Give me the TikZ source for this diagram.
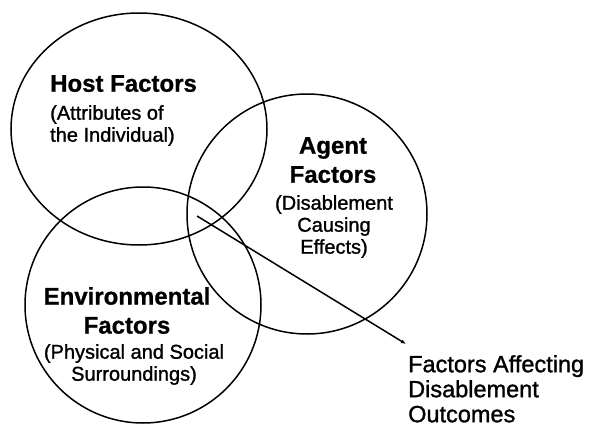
\documentclass[tikz,border=0pt]{standalone}
\usepackage{fontspec}
\setmainfont{Liberation Sans}
\newfontfamily\scanreg[FakeBold=1.2]{Liberation Sans}
\newfontfamily\scanbold[FakeBold=0.8]{Liberation Sans Bold}
\usetikzlibrary{shapes.geometric,arrows.meta}
\tikzset{
  ring/.style={draw=black, line width=1.5pt, inner sep=0pt},
  titletxt/.style={font=\scanbold\fontsize{24}{29}\selectfont, inner sep=0pt, align=center},
  subtxt/.style={font=\scanreg\fontsize{20}{22}\selectfont, inner sep=0pt, align=center},
  outtxt/.style={font=\scanreg\fontsize{23.5}{25}\selectfont, inner sep=0pt, align=left},
  pointer/.style={draw=black, line width=1.5pt, -{Latex[length=5pt,width=4pt]}}
}
\begin{document}
\begin{tikzpicture}[x=1pt,y=-1pt]
\useasboundingbox (0,0) rectangle (590,439);
% circles
\node[ring, ellipse, minimum width=256pt, minimum height=232pt] (host) at (139,129) {};
\node[ring, circle, minimum size=240pt] (agent) at (307,214) {};
\node[ring, circle, minimum size=236pt] (env) at (143,305) {};
% host text
\node[titletxt, anchor=north west, align=left] (hosttitle) at (50,75) {Host Factors};
\node[subtxt, anchor=north west, align=left] (hostsub) at (50,105) {(Attributes of\\the Individual)};
% agent text
\node[titletxt, anchor=north] (agenttitle) at (333,137) {Agent\\Factors};
\node[subtxt, anchor=north] (agentsub) at (334,195) {(Disablement\\Causing\\Effects)};
% environmental text
\node[titletxt, anchor=north] (envtitle) at (127,287) {Environmental\\Factors};
\node[subtxt, anchor=north] (envsub) at (134,344) {(Physical and Social\\Surroundings)};
% outcome text
\node[outtxt, anchor=north west] (outcome) at (408,355) {Factors Affecting\\Disablement\\Outcomes};
% pointer
\coordinate (src) at (197,216);
\coordinate (tip) at (406,344);
\draw[pointer] (src) -- (tip);
\end{tikzpicture}
\end{document}
